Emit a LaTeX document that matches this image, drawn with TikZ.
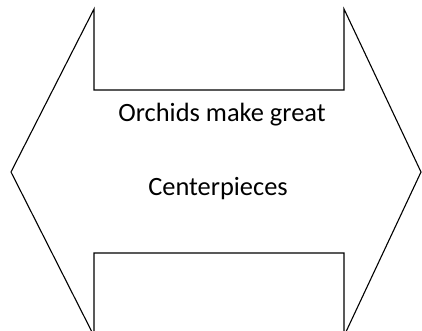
\documentclass[tikz,border=0pt]{standalone}
\usepackage{fontspec}
\setmainfont{Carlito}
\usetikzlibrary{positioning}
\tikzstyle{outline}=[draw=black, line width=1.1pt, line join=miter]
\tikzstyle{caption}=[inner sep=0pt, font=\fontsize{26.4}{30}\selectfont, anchor=base]

\begin{document}
\begin{tikzpicture}[x=1pt,y=-1pt]
		    \useasboundingbox (0,0) rectangle (422,330);
		    \clip (0,0) rectangle (422,330);
		    % double arrow
		    \coordinate (ltip) at (11,172);
		    \coordinate (rtip) at (421,172);
		    \draw [outline] (ltip) -- (94,9) -- (94,90) -- (344,90) -- (344,9) -- (rtip)
		        -- (344,336) -- (344,253) -- (94,253) -- (94,336) -- cycle;
		    \node [caption] (l1) at (222,121) {Orchids make great};
		    \node [caption] (l2) at (218,195) {Centerpieces};
		\end{tikzpicture}
\end{document}
